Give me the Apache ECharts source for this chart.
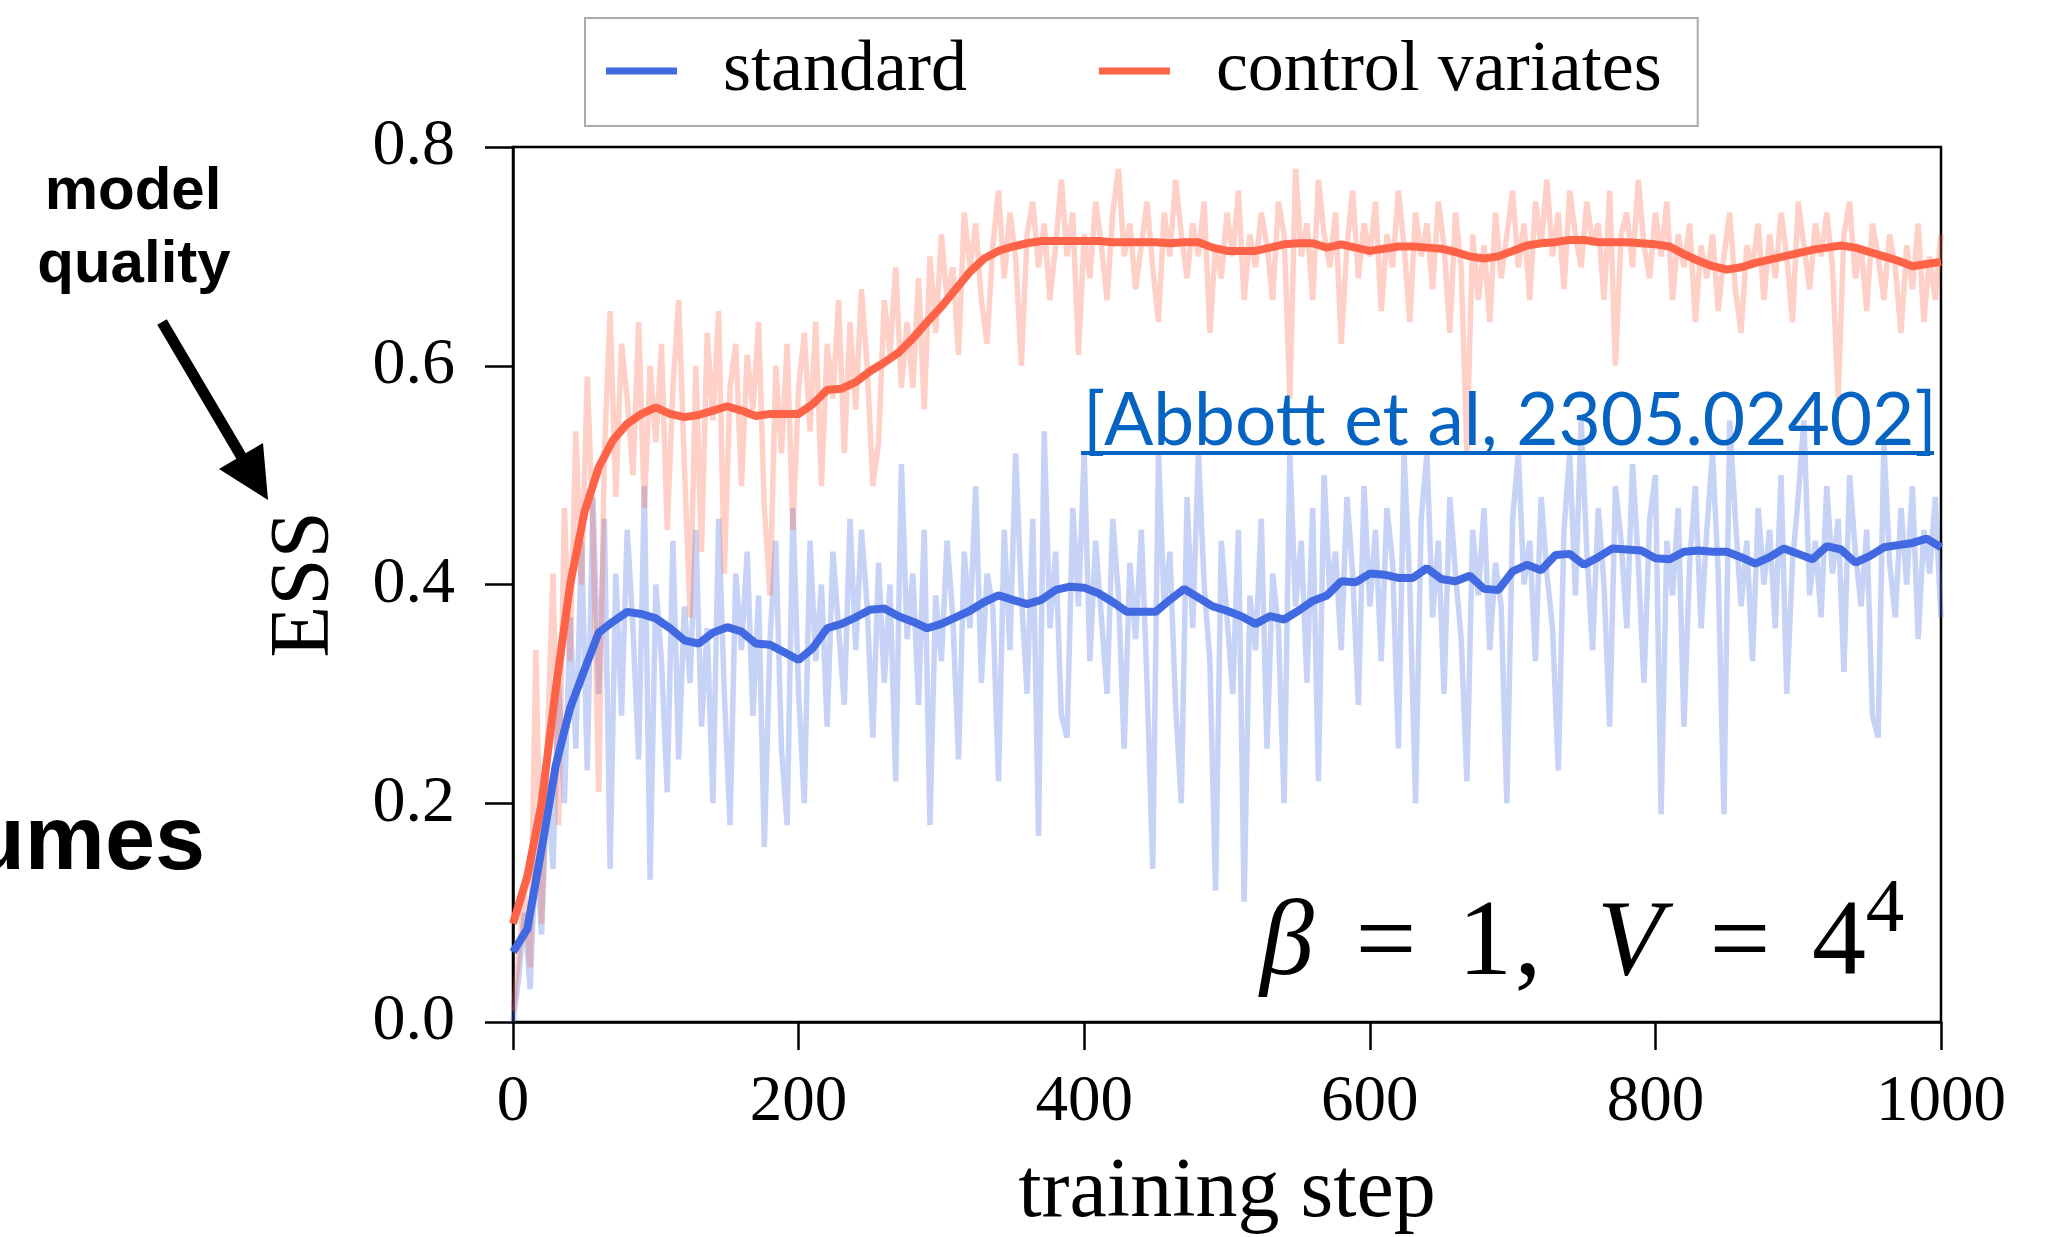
<!DOCTYPE html>
<html>
<head>
<meta charset="utf-8">
<script src="https://cdn.jsdelivr.net/npm/echarts@6/dist/echarts.min.js"></script>
<style>
html,body{margin:0;padding:0;background:#fff;}
#chart{width:2054px;height:1237px;}
</style>
</head>
<body>
<div id="chart"></div>
<script>
// ---- data ----
const xTickLabels = ['0','200','400','600','800','1000'];
const yTickLabels = ['0.0','0.2','0.4','0.6','0.8'];
const seriesNames = ['standard','control variates'];

// raw ESS, sampled every 4 training steps (0..1000)
const rawStepSize = 4;
const standardRaw = [
0.00,0.04,0.10,0.03,0.16,0.08,0.22,0.14,0.31,0.20,
0.37,0.25,0.44,0.23,0.48,0.30,0.46,0.14,0.41,0.28,
0.45,0.36,0.24,0.49,0.13,0.40,0.33,0.21,0.44,0.24,
0.38,0.31,0.45,0.27,0.36,0.20,0.46,0.30,0.18,0.41,
0.34,0.43,0.28,0.39,0.16,0.35,0.44,0.25,0.18,0.47,
0.30,0.20,0.44,0.33,0.40,0.27,0.43,0.36,0.29,0.46,
0.34,0.45,0.38,0.26,0.42,0.31,0.40,0.22,0.51,0.35,
0.41,0.29,0.45,0.18,0.39,0.33,0.44,0.37,0.24,0.43,
0.36,0.49,0.31,0.41,0.38,0.22,0.45,0.34,0.52,0.39,
0.30,0.46,0.17,0.54,0.36,0.43,0.28,0.26,0.47,0.38,
0.52,0.33,0.44,0.37,0.30,0.46,0.39,0.25,0.42,0.35,
0.45,0.31,0.14,0.52,0.38,0.43,0.29,0.20,0.48,0.36,
0.52,0.40,0.33,0.12,0.44,0.37,0.30,0.45,0.11,0.39,
0.34,0.46,0.25,0.41,0.36,0.20,0.52,0.38,0.44,0.31,
0.47,0.22,0.50,0.39,0.43,0.34,0.48,0.41,0.29,0.49,
0.38,0.45,0.33,0.47,0.42,0.25,0.52,0.40,0.20,0.46,
0.52,0.37,0.44,0.30,0.48,0.41,0.35,0.22,0.45,0.39,
0.47,0.34,0.42,0.38,0.20,0.46,0.52,0.40,0.44,0.33,
0.48,0.41,0.36,0.23,0.45,0.52,0.39,0.55,0.43,0.34,
0.47,0.40,0.27,0.49,0.44,0.36,0.51,0.42,0.31,0.46,
0.50,0.19,0.44,0.39,0.47,0.27,0.42,0.49,0.36,0.45,
0.52,0.41,0.19,0.55,0.46,0.38,0.44,0.33,0.47,0.40,
0.45,0.36,0.50,0.30,0.42,0.48,0.55,0.39,0.44,0.37,
0.49,0.41,0.46,0.32,0.50,0.43,0.38,0.45,0.28,0.26,
0.53,0.42,0.37,0.47,0.40,0.49,0.35,0.45,0.41,0.48,
0.37];
const controlRaw = [
0.01,0.06,0.12,0.05,0.34,0.09,0.25,0.41,0.18,0.47,
0.33,0.54,0.40,0.59,0.45,0.21,0.52,0.65,0.48,0.62,
0.57,0.50,0.64,0.47,0.60,0.53,0.62,0.45,0.58,0.66,
0.51,0.37,0.60,0.43,0.63,0.55,0.65,0.41,0.58,0.62,
0.49,0.61,0.56,0.64,0.47,0.39,0.60,0.52,0.62,0.45,
0.58,0.63,0.54,0.64,0.49,0.62,0.57,0.66,0.52,0.64,
0.56,0.67,0.60,0.49,0.53,0.66,0.61,0.69,0.58,0.64,
0.58,0.68,0.56,0.70,0.63,0.72,0.66,0.69,0.61,0.74,
0.69,0.73,0.66,0.62,0.71,0.76,0.68,0.74,0.70,0.60,
0.72,0.75,0.69,0.73,0.66,0.71,0.77,0.70,0.74,0.61,
0.72,0.68,0.75,0.71,0.66,0.74,0.78,0.70,0.73,0.67,
0.71,0.75,0.69,0.64,0.74,0.70,0.77,0.72,0.68,0.73,
0.70,0.75,0.63,0.71,0.68,0.74,0.70,0.76,0.66,0.72,
0.69,0.74,0.71,0.66,0.75,0.72,0.57,0.78,0.70,0.73,
0.66,0.77,0.72,0.69,0.74,0.62,0.71,0.76,0.68,0.73,
0.70,0.75,0.65,0.72,0.69,0.76,0.71,0.64,0.74,0.70,
0.73,0.67,0.75,0.71,0.63,0.74,0.69,0.52,0.72,0.66,
0.71,0.64,0.74,0.68,0.72,0.76,0.69,0.73,0.66,0.75,
0.71,0.77,0.70,0.74,0.67,0.76,0.72,0.69,0.75,0.71,
0.73,0.66,0.76,0.60,0.72,0.74,0.69,0.77,0.71,0.68,
0.74,0.70,0.75,0.66,0.72,0.69,0.73,0.64,0.71,0.68,
0.72,0.65,0.70,0.74,0.67,0.63,0.71,0.69,0.73,0.66,
0.72,0.68,0.74,0.70,0.64,0.75,0.71,0.67,0.73,0.70,
0.74,0.69,0.57,0.72,0.75,0.68,0.71,0.65,0.73,0.70,
0.66,0.72,0.69,0.63,0.71,0.67,0.73,0.64,0.70,0.66,
0.72];

// smoothed ESS, sampled every 10 training steps (0..1000)
const smoothStepSize = 10;
const standardSmooth = [
0.064,0.085,0.158,0.235,0.287,0.322,0.356,0.366,0.375,0.373,
0.369,0.360,0.349,0.346,0.356,0.361,0.357,0.346,0.345,0.338,
0.331,0.342,0.360,0.364,0.370,0.377,0.378,0.371,0.366,0.360,
0.364,0.370,0.376,0.384,0.390,0.386,0.382,0.386,0.395,0.398,
0.397,0.392,0.384,0.375,0.375,0.375,0.386,0.396,0.388,0.380,
0.376,0.371,0.364,0.371,0.368,0.376,0.385,0.390,0.403,0.402,
0.410,0.409,0.406,0.406,0.415,0.405,0.403,0.408,0.396,0.395,
0.412,0.418,0.413,0.427,0.428,0.418,0.425,0.433,0.432,0.431,
0.424,0.423,0.430,0.431,0.430,0.430,0.425,0.419,0.425,0.433,
0.428,0.423,0.435,0.432,0.420,0.426,0.434,0.436,0.438,0.442,
0.434];
const controlSmooth = [
0.090,0.133,0.200,0.305,0.400,0.466,0.507,0.532,0.547,0.556,
0.562,0.556,0.553,0.555,0.559,0.563,0.559,0.554,0.556,0.556,
0.556,0.565,0.578,0.579,0.585,0.595,0.603,0.612,0.625,0.640,
0.654,0.670,0.686,0.698,0.705,0.709,0.712,0.714,0.714,0.714,
0.714,0.714,0.713,0.713,0.713,0.713,0.712,0.713,0.713,0.708,
0.705,0.705,0.705,0.708,0.711,0.712,0.712,0.708,0.711,0.708,
0.705,0.707,0.709,0.709,0.708,0.707,0.704,0.700,0.698,0.700,
0.705,0.710,0.712,0.713,0.715,0.715,0.713,0.713,0.713,0.712,
0.711,0.709,0.702,0.696,0.691,0.688,0.690,0.694,0.697,0.700,
0.703,0.706,0.708,0.710,0.708,0.704,0.700,0.696,0.691,0.693,
0.695];

// ---- build ----
const toPairs = (arr, step) => arr.map((v, i) => [i * step, v]);
const BLUE = '#4169E1', RED = '#FF6347';
const SERIF = '"Liberation Serif", "DejaVu Serif", serif';

const chart = echarts.init(document.getElementById('chart'), null, {renderer: 'canvas'});
chart.setOption({
  animation: false,
  backgroundColor: '#ffffff',
  grid: {left: 513, right: 113, top: 147, bottom: 215, show: true, containLabel: false,
         outerBoundsMode: 'none',
         borderColor: '#000', borderWidth: 2.5, backgroundColor: 'transparent'},
  legend: {
    data: seriesNames,
    left: 585, top: 18,
    padding: [17, 36, 19, 21],
    borderColor: '#aaaaaa', borderWidth: 2, backgroundColor: '#ffffff',
    icon: 'rect', itemWidth: 71, itemHeight: 7, itemGap: 132,
    textStyle: {fontFamily: SERIF, fontSize: 72, color: '#000', padding: [0, 0, 0, 41]}
  },
  xAxis: {
    type: 'value', min: 0, max: 1000, interval: 200,
    name: 'training step', nameLocation: 'middle', nameGap: 130,
    nameTextStyle: {fontFamily: SERIF, fontSize: 84, color: '#000'},
    axisLine: {lineStyle: {color: '#000', width: 2.5}},
    axisTick: {inside: false, length: 28, lineStyle: {color: '#000', width: 2.5}},
    axisLabel: {margin: 48, fontFamily: SERIF, fontSize: 65, color: '#000',
                formatter: v => xTickLabels[Math.round(v / 200)]},
    splitLine: {show: false}
  },
  yAxis: {
    type: 'value', min: 0, max: 0.8, interval: 0.2,
    name: 'ESS', nameLocation: 'middle', nameGap: 165,
    nameTextStyle: {fontFamily: SERIF, fontSize: 85, color: '#000'},
    axisLine: {lineStyle: {color: '#000', width: 2.5}},
    axisTick: {inside: false, length: 28, lineStyle: {color: '#000', width: 2.5}},
    axisLabel: {margin: 58, fontFamily: SERIF, fontSize: 66, color: '#000',
                formatter: v => yTickLabels[Math.round(v / 0.2)]},
    splitLine: {show: false}
  },
  series: [
    {name: 'standard raw', type: 'line', data: toPairs(standardRaw, rawStepSize),
     showSymbol: false, color: BLUE, lineStyle: {width: 5.5, opacity: 0.3, color: BLUE}, z: 2},
    {name: 'control variates raw', type: 'line', data: toPairs(controlRaw, rawStepSize),
     showSymbol: false, color: RED, lineStyle: {width: 5.5, opacity: 0.3, color: RED}, z: 2},
    {name: 'standard', type: 'line', data: toPairs(standardSmooth, smoothStepSize),
     showSymbol: false, color: BLUE, itemStyle: {color: BLUE}, lineStyle: {width: 8, color: BLUE}, z: 3},
    {name: 'control variates', type: 'line', data: toPairs(controlSmooth, smoothStepSize),
     showSymbol: false, color: RED, itemStyle: {color: RED}, lineStyle: {width: 8, color: RED}, z: 3}
  ],
  graphic: [
    // slide annotations
    {type: 'text', x: 133, y: 192, style: {text: 'model', fill: '#000',
      font: 'bold 60px "Liberation Sans", Arial, sans-serif', textAlign: 'center', textVerticalAlign: 'middle'}},
    {type: 'text', x: 134, y: 265, style: {text: 'quality', fill: '#000',
      font: 'bold 60px "Liberation Sans", Arial, sans-serif', textAlign: 'center', textVerticalAlign: 'middle'}},
    {type: 'text', x: 205, y: 844, style: {text: 'umes', fill: '#000',
      font: 'bold 90px "Liberation Sans", Arial, sans-serif', textAlign: 'right', textVerticalAlign: 'middle'}},
    {type: 'line', shape: {x1: 162, y1: 322, x2: 244, y2: 461}, style: {stroke: '#000', lineWidth: 11}},
    {type: 'polygon', shape: {points: [[219, 469], [263, 443], [268, 500]]}, style: {fill: '#000'}},
    // reference link
    {type: 'text', x: 1083, y: 421, z: 10, style: {text: '[Abbott et al, 2305.02402]', fill: '#0563C1',
      font: '73px Lato, "Open Sans", sans-serif', textAlign: 'left', textVerticalAlign: 'middle'}},
    {type: 'line', z: 10, shape: {x1: 1081, y1: 453, x2: 1934, y2: 453}, style: {stroke: '#0563C1', lineWidth: 4}},
    // parameter label  beta = 1, V = 4^4
    {type: 'text', x: 1287, y: 946, z: 10, style: {text: 'β', fill: '#000', font: 'italic 108px ' + SERIF, textAlign: 'center', textVerticalAlign: 'middle'}},
    {type: 'text', x: 1386, y: 946, z: 10, style: {text: '=', fill: '#000', font: '108px ' + SERIF, textAlign: 'center', textVerticalAlign: 'middle'}},
    {type: 'text', x: 1485, y: 946, z: 10, style: {text: '1', fill: '#000', font: '108px ' + SERIF, textAlign: 'center', textVerticalAlign: 'middle'}},
    {type: 'text', x: 1528, y: 946, z: 10, style: {text: ',', fill: '#000', font: '108px ' + SERIF, textAlign: 'center', textVerticalAlign: 'middle'}},
    {type: 'text', x: 1630, y: 946, z: 10, style: {text: 'V', fill: '#000', font: 'italic 108px ' + SERIF, textAlign: 'center', textVerticalAlign: 'middle'}},
    {type: 'text', x: 1740, y: 946, z: 10, style: {text: '=', fill: '#000', font: '108px ' + SERIF, textAlign: 'center', textVerticalAlign: 'middle'}},
    {type: 'text', x: 1839, y: 946, z: 10, style: {text: '4', fill: '#000', font: '108px ' + SERIF, textAlign: 'center', textVerticalAlign: 'middle'}},
    {type: 'text', x: 1885, y: 911, z: 10, style: {text: '4', fill: '#000', font: '77px ' + SERIF, textAlign: 'center', textVerticalAlign: 'middle'}}
  ]
});
</script>
</body>
</html>
